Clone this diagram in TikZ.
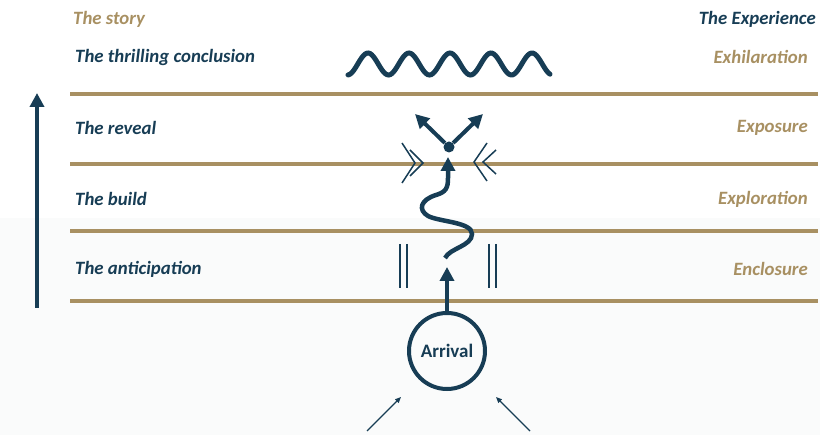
\documentclass[tikz,border=0pt]{standalone}
\usepackage{fontspec}
\setmainfont{Carlito}
\usetikzlibrary{arrows.meta}
\definecolor{navy}{HTML}{173D55}
\definecolor{gold}{HTML}{A89062}
\definecolor{paper}{HTML}{FAFBFB}
\tikzset{
	storytext/.style={text=navy, font=\bfseries\itshape\fontsize{18.8}{20}\selectfont, anchor=west, inner sep=0pt},
	exptext/.style={text=gold, font=\bfseries\itshape\fontsize{18.8}{20}\selectfont, anchor=east, inner sep=0pt},
	level/.style={draw=gold, line width=4pt},
	bigarrow/.style={draw=navy, line width=4.5pt, -{Triangle[length=14pt,width=14pt]}},
	smallarrow/.style={draw=navy, line width=1.3pt, -{Triangle[length=6pt,width=5pt]}},
	chevron/.style={draw=navy, line width=1.5pt},
	barline/.style={draw=navy, line width=1.5pt},
}
\begin{document}
\begin{tikzpicture}[x=1pt,y=-1pt]
	\useasboundingbox (0,0) rectangle (820,435);
	\fill[paper] (0,218) rectangle (820,435);
	% headings
	\node[storytext, text=gold] (story) at (73,19) {The story};
	\node[exptext, text=navy] (experience) at (816,19) {The Experience};
	% stages, top to bottom
	\node[storytext] (conclusion) at (75,57) {The thrilling conclusion};
	\node[exptext] (exhil) at (808,57) {Exhilaration};
	\node[storytext] (reveal) at (75,128) {The reveal};
	\node[exptext] (exposure) at (808,128) {Exposure};
	\node[storytext] (build) at (75,199) {The build};
	\node[exptext] (exploration) at (808,199) {Exploration};
	\node[storytext] (anticipation) at (75,269) {The anticipation};
	\node[exptext] (enclosure) at (808,269) {Enclosure};
	% separating lines
	\foreach \y/\n in {94/a,164/b,231/c,301/d} {
		\coordinate (l\n) at (70,\y);
		\coordinate (r\n) at (818,\y);
		\draw[level] (l\n) -- (r\n);
	}
	% story arrow
	\coordinate (sbot) at (37,308);
	\coordinate (stop) at (37,93);
	\draw[bigarrow] (sbot) -- (stop);
	% arrival
	\node[circle, draw=navy, line width=4pt, minimum size=76pt, inner sep=0pt, text=navy,
		font=\bfseries\fontsize{19}{21}\selectfont] (arrival) at (447,351) {Arrival};
	\coordinate (antic) at (447,267);
	\draw[bigarrow] (arrival.north) -- (antic);
	\coordinate (inl) at (367,431);
	\coordinate (inlt) at (401,397);
	\coordinate (inr) at (530,431);
	\coordinate (inrt) at (496,397);
	\draw[smallarrow] (inl) -- (inlt);
	\draw[smallarrow] (inr) -- (inrt);
	% enclosure bars
	\foreach \x in {400,407,489,496}
		\draw[barline] (\x,244) -- (\x,288);
	% exploration squiggle
	\node[circle, fill=navy, minimum size=11pt, inner sep=0pt] (peak) at (449,147) {};
	\coordinate (sqstart) at (445,258);
	\draw[bigarrow] (sqstart) .. controls (450,248) and (472,246) .. (472,234)
		.. controls (472,222) and (440,222) .. (428,216)
		.. controls (418,210) and (420,200) .. (436,195)
		.. controls (446,192) and (448,188) .. (448,178) -- (448,157);
	% exposure chevrons
	\draw[chevron] (402,143) -- (415,163) -- (402,183);
	\draw[chevron] (410,150) -- (423,163) -- (410,176);
	\draw[chevron] (487,143) -- (474,162) -- (487,181);
	\draw[chevron] (496,150) -- (483,162) -- (496,174);
	% reveal arrows
	\coordinate (revl) at (415,114);
	\coordinate (revr) at (483,114);
	\draw[bigarrow, line width=4pt] (peak) -- (revl);
	\draw[bigarrow, line width=4pt] (peak) -- (revr);
	% thrilling wave
	\draw[navy, line width=5pt, line cap=round] plot[domain=0:202, samples=120]
		({348+\x}, {64 - 11*cos(8.78*(\x-20))});
\end{tikzpicture}
\end{document}
